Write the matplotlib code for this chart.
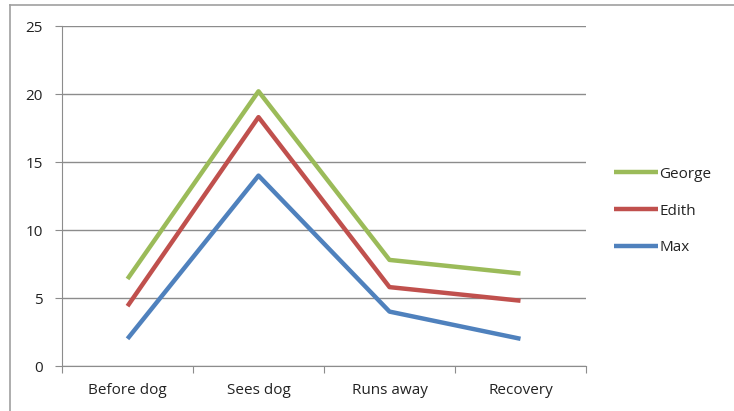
import matplotlib.pyplot as plt
from matplotlib.lines import Line2D

stages = ['Before dog', 'Sees dog', 'Runs away', 'Recovery']
george = [6.4, 20.2, 7.8, 6.8]
edith = [4.4, 18.3, 5.8, 4.8]
max_ = [2.0, 14.0, 4.0, 2.0]

series = [('George', george, '#9BBB59'),
          ('Edith', edith, '#C0504D'),
          ('Max', max_, '#4F81BD')]

plt.rcParams['font.family'] = ['Open Sans', 'DejaVu Sans']

W, H = 734, 411
fig = plt.figure(figsize=(W / 100, H / 100), dpi=100)
ax = fig.add_axes([62 / W, 1 - 366 / H, (586 - 62) / W, (366 - 26) / H])

# chart frame (only top and left edges fall inside the image)
fig.add_artist(Line2D([10 / W, 10 / W], [0, 1 - 5 / H], color='#a0a0a0', lw=1.2))
fig.add_artist(Line2D([10 / W, 1], [1 - 5 / H, 1 - 5 / H], color='#a0a0a0', lw=1.2))

x = range(len(stages))
for name, vals, col in series:
    ax.plot(x, vals, color=col, lw=3.2, label=name, solid_capstyle='butt')

ax.set_xlim(-0.5, len(stages) - 0.5)
ax.set_ylim(0, 25)
ax.set_yticks(range(0, 26, 5))
ax.yaxis.grid(True, color='#8c8c8c', lw=1)
ax.set_axisbelow(True)

ax.set_xticks([i - 0.5 for i in range(len(stages) + 1)], minor=False)
ax.set_xticklabels([])
ax.set_xticks(list(x), minor=True)
ax.set_xticklabels(stages, minor=True)
ax.tick_params(axis='x', which='minor', length=0, pad=12, labelsize=11, colors='#222222')
ax.tick_params(axis='x', which='major', length=5, color='#8c8c8c', direction='out')
ax.tick_params(axis='y', length=5, color='#8c8c8c', labelsize=11, labelcolor='#222222', pad=9)

for side in ['top', 'right']:
    ax.spines[side].set_visible(False)
for side in ['left', 'bottom']:
    ax.spines[side].set_color('#8c8c8c')

leg = ax.legend(loc='center left', bbox_to_anchor=(600 / W, 1 - 211 / H),
                bbox_transform=fig.transFigure, frameon=False, fontsize=11,
                handlelength=2.9, handletextpad=0.1, labelspacing=1.42)
for t in leg.get_texts():
    t.set_color('#222222')

fig.savefig('out.png', dpi=100)
